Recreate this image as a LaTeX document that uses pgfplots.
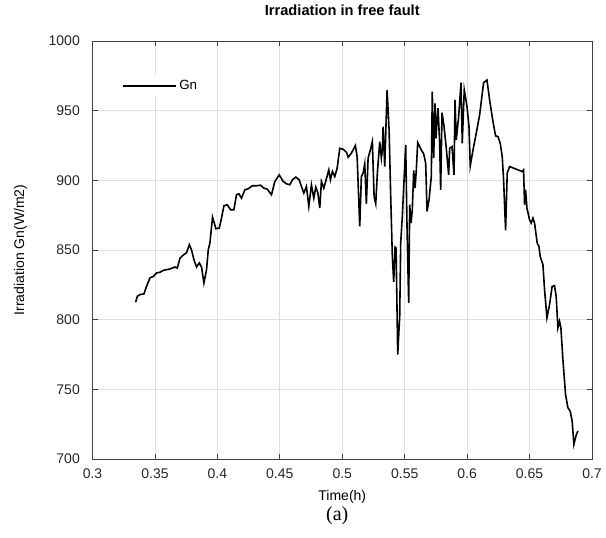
\documentclass[border=0pt]{standalone}
\usepackage{pgfplots}
\pgfplotsset{compat=1.18}
\usepackage{fontspec}
\setmainfont{Liberation Sans}
\newfontfamily\serifa{Liberation Serif}
\definecolor{axgray}{RGB}{64,64,64}
\definecolor{gridgray}{RGB}{223,223,223}
\begin{document}
\begin{tikzpicture}
\useasboundingbox (-69.4pt,-59.25pt) rectangle (385.1pt,344.25pt);
\begin{axis}[
  scale only axis,
  width=374.6pt, height=313.5pt,
  xmin=0.3, xmax=0.7, ymin=700, ymax=1000,
  xtick={0.3,0.35,...,0.7},
  ytick={700,750,...,1000},
  xticklabels={0.3,0.35,0.4,0.45,0.5,0.55,0.6,0.65,0.7},
  yticklabels={700,750,800,850,900,950,1000},
  grid=major,
  major grid style={gridgray, line width=0.5pt},
  axis line style={axgray, line width=0.6pt},
  tick style={axgray, line width=0.6pt},
  tick align=inside,
  major tick length=4pt,
  xtick pos=both, ytick pos=both,
  ticklabel style={font=\fontsize{10.5}{12}\selectfont, text=black!85},
  xticklabel style={yshift=-4pt},
  yticklabel style={xshift=-6pt},
  /pgf/number format/assume math mode=true,
  clip=false,
  xlabel={Time(h)},
  ylabel={Irradiation Gn(W/m2)},
  xlabel style={font=\fontsize{10.5}{12}\selectfont, at={(axis description cs:0.5,-0.091)}, anchor=center},
  ylabel style={font=\fontsize{10.5}{12}\selectfont, at={(axis description cs:-0.144,0.5)}, anchor=center, rotate=0},
  legend style={draw=none, fill=white, at={(rel axis cs:0.053,0.919)}, anchor=north west, font=\fontsize{10}{12}\selectfont, inner sep=2pt},
  legend cell align=left,
  legend image code/.code={\draw[#1] (0cm,0cm) -- (1.4cm,0cm);},
]
\addplot[black, line width=1.2pt] table {
x y
0.3345 812.5
0.3359 816.8
0.3380 818
0.3412 818.5
0.3433 824
0.3460 830
0.3487 831
0.3513 833.5
0.3540 834
0.3567 835.4
0.3620 836.4
0.3660 837.8
0.3679 837
0.3700 844
0.3727 846.4
0.3753 848
0.3775 853.8
0.3793 850
0.3812 843
0.3833 837.8
0.3855 840.7
0.3873 837.8
0.3892 826.3
0.3913 835.9
0.3927 850.2
0.3940 855
0.3961 873.6
0.3988 865.3
0.4015 865.7
0.4033 872.9
0.4052 881.7
0.4079 882.5
0.4105 878.9
0.4132 878.9
0.4153 889.6
0.4172 890.3
0.4193 887.2
0.4220 893.2
0.4247 893.9
0.4279 896.1
0.4313 896.1
0.4345 896.5
0.4372 894.4
0.4399 893.7
0.4433 889.6
0.4460 899.2
0.4495 903.9
0.4527 899.2
0.4553 897.5
0.4580 896.8
0.4601 900.4
0.4628 902.3
0.4655 900.4
0.4673 895.6
0.4692 890.8
0.4713 895.6
0.4732 881.3
0.4753 896.8
0.4772 887.2
0.4788 895.1
0.4804 891.3
0.4820 880.1
0.4833 899.2
0.4852 894.4
0.4873 901.1
0.4892 907.5
0.4905 900.4
0.4921 906.3
0.4940 902.7
0.4959 908.7
0.4980 923
0.5007 922.3
0.5033 920.2
0.5047 916.6
0.5073 919.5
0.5105 925
0.5119 917.1
0.5140 866.9
0.5153 902.7
0.5167 905.1
0.5180 911.8
0.5193 883.2
0.5207 915.9
0.5225 921.8
0.5241 927.8
0.5255 888.4
0.5268 883.2
0.5281 905.1
0.5300 927.8
0.5313 915.9
0.5321 921.8
0.5327 938.6
0.5340 909.9
0.5359 964.8
0.5375 936.2
0.5388 888.4
0.5401 845.4
0.5412 827.1
0.5423 852.1
0.5431 851.4
0.5444 775
0.5460 802.5
0.5468 855
0.5481 874.1
0.5508 925.4
0.5519 864.5
0.5532 812
0.5540 882.5
0.5551 869.3
0.5561 878.9
0.5572 907.1
0.5583 894.4
0.5593 907.5
0.5604 927.1
0.5633 921.8
0.5652 919
0.5668 912.3
0.5679 877.7
0.5695 886
0.5713 902.7
0.5721 963.6
0.5732 915.9
0.5743 955.3
0.5751 930.2
0.5759 943.3
0.5767 951.7
0.5780 926.6
0.5788 893.2
0.5799 948.6
0.5815 938.6
0.5833 923
0.5852 903.9
0.5860 923
0.5879 924.2
0.5895 903.9
0.5903 957.7
0.5913 929
0.5932 945.7
0.5951 970.1
0.5961 926.6
0.5977 964.8
0.5999 952.9
0.6015 938.6
0.6025 910.4
0.6047 921.8
0.6073 933.8
0.6100 946.9
0.6132 970.1
0.6159 972
0.6180 957.7
0.6207 942.1
0.6228 931.9
0.6247 931.4
0.6265 926.6
0.6281 917.1
0.6292 900.4
0.6308 864.1
0.6321 905.1
0.6340 909.9
0.6393 908
0.6441 906.3
0.6452 907.5
0.6460 882.5
0.6468 893.2
0.6479 880.1
0.6500 871.7
0.6513 869.3
0.6527 872.9
0.6540 869.3
0.6561 855
0.6575 852.6
0.6585 845.4
0.6607 839.5
0.6620 821.6
0.6639 801.3
0.6660 810.8
0.6681 823.9
0.6700 824.4
0.6713 816.8
0.6727 794.1
0.6740 798.9
0.6751 794.1
0.6767 771.4
0.6788 746.4
0.6807 736.8
0.6825 734.4
0.6841 727.3
0.6855 710.5
0.6873 717
0.6887 720.1
};
\addlegendentry{Gn}
\node[font=\bfseries\fontsize{11}{13}\selectfont, anchor=center] at (rel axis cs:0.5,1.074) {Irradiation in free fault};
\node[font=\serifa\fontsize{15}{17}\selectfont, anchor=center] at (rel axis cs:0.49,-0.136) {(a)};
\end{axis}
\end{tikzpicture}
\end{document}
